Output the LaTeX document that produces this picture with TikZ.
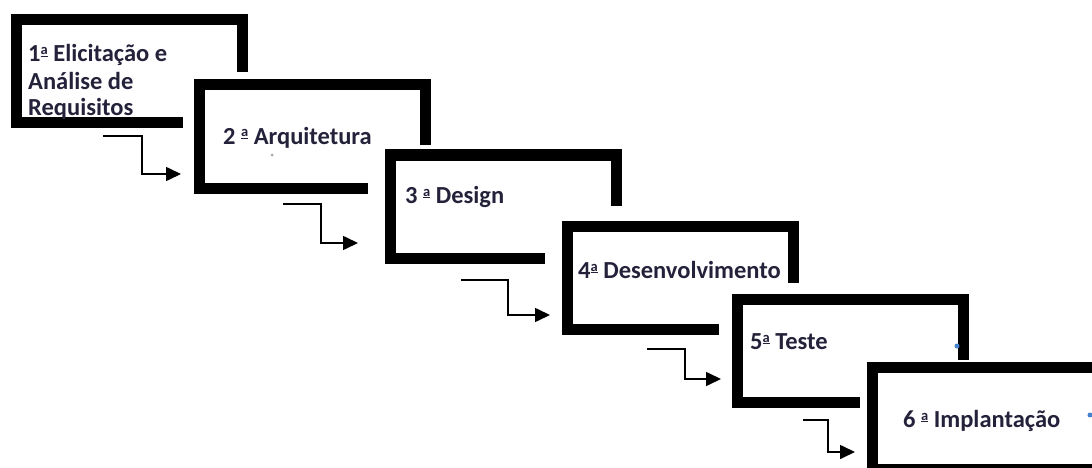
\documentclass[tikz,border=0pt]{standalone}
\usepackage{fontspec}
\setmainfont{Carlito}
\usetikzlibrary{arrows.meta}
\definecolor{labelink}{RGB}{36,34,58}
\definecolor{markblue}{RGB}{70,130,205}
\tikzset{
  x=1pt, y=-1pt,
  frameline/.style={line width=11pt, line cap=butt, line join=miter, black},
  flowarrow/.style={line width=1.6pt, black, -{Triangle[length=15pt,width=14pt]}},
  stagetext/.style={anchor=base west, inner sep=0pt, text=labelink,
    font=\fontsize{24.5}{28}\selectfont\bfseries},
}
% ordinal indicator: raised small a with a bar beneath it
\newcommand{\ordmark}{\raisebox{7pt}{\fontsize{14.5}{14.5}\selectfont\bfseries
  \setbox0\hbox{a}\rlap{\rule[-2.4pt]{\wd0}{1.5pt}}\box0}}
% open frame: outer left L, outer top T, bottom edge ends at x=#3, right edge ends at y=#4
\newcommand{\stageframe}[4]{%
  \draw[frameline] (#3,#2+108) -- (#1+6,#2+108) -- (#1+6,#2+5) -- (#1+232,#2+5) -- (#1+232,#4);}
\begin{document}
\begin{tikzpicture}
\useasboundingbox[fill=white] (0,0) rectangle (1092,468);

% stage frames
\stageframe{10}{15}{183}{72}
\stageframe{193}{80}{368}{145}
\stageframe{384}{150}{545}{206}
\stageframe{561}{221}{719}{283}
\stageframe{731}{294}{860}{360}
\draw[frameline] (1110,469) -- (872,469) -- (872,367) -- (1110,367);

% entry points on the left side of each following frame
\coordinate (in2) at (181,174);
\coordinate (in3) at (358,243);
\coordinate (in4) at (550,315);
\coordinate (in5) at (721,379);
\coordinate (in6) at (855,452);
% start of each connector below the previous frame
\coordinate (out1) at (103,136);
\coordinate (out2) at (283,204);
\coordinate (out3) at (461,280);
\coordinate (out4) at (647,349);
\coordinate (out5) at (803,420);

% stage labels
\node[stagetext] (s1a) at (28,62) {1\ordmark{} Elicitação e};
\node[stagetext] (s1b) at (28,90) {Análise de};
\node[stagetext] (s1c) at (28,116) {Requisitos};
\node[stagetext] (s2) at (223,144) {2 \ordmark{} Arquitetura};
\node[stagetext] (s3) at (405,203) {3 \ordmark{} Design};
\node[stagetext] (s4) at (578,278) {4\ordmark{} Desenvolvimento};
\node[stagetext] (s5) at (750,349) {5\ordmark{} Teste};
\node[stagetext] (s6) at (903,427) {6 \ordmark{} Implantação};

% elbow connectors
\draw[flowarrow] (out1) -- (142,136) |- (in2);
\draw[flowarrow] (out2) -- (321,204) |- (in3);
\draw[flowarrow] (out3) -- (508,280) |- (in4);
\draw[flowarrow] (out4) -- (685,349) |- (in5);
\draw[flowarrow] (out5) -- (828,420) |- (in6);

% small marks
\fill[gray!70] (272,155) circle (1.5);
\fill[markblue] (957,346) circle (2.5);
\fill[markblue] (1090,415) circle (2.5);
\end{tikzpicture}
\end{document}
